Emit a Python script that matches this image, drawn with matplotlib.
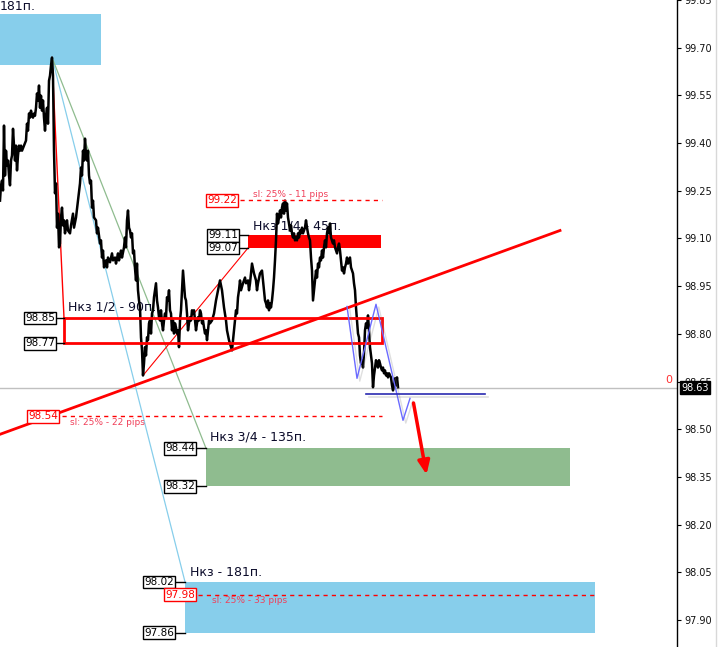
import matplotlib.pyplot as plt
import matplotlib.patheffects as pe
from matplotlib.patches import Rectangle
from matplotlib.lines import Line2D

# price path (bar index, price)
bars = [0, 1, 2, 3, 4, 5, 6, 7, 8, 9, 10, 11, 12, 13, 14, 15, 16, 17, 18, 19, 20, 21, 22, 24, 26, 27, 28, 29,
        30, 31, 32, 33, 34, 35, 36, 37, 38, 39, 40, 41, 42, 43, 44, 45, 46, 47, 48, 49, 50, 51, 52, 53, 54,
        55, 56, 57, 58, 59, 60, 61, 62, 63, 64, 65, 66, 67, 68, 70, 71, 73, 74, 76, 78, 80, 81, 82, 83, 84,
        85, 86, 87, 88, 89, 90, 91, 92, 93, 94, 96, 97, 98, 100, 101, 102, 103, 104, 105, 106, 107, 108,
        110, 112, 113, 115, 116, 118, 119, 121, 122, 124, 125, 126, 127, 128, 129, 130, 131, 132, 133, 134,
        135, 136, 137, 138, 139, 140, 141, 142, 143, 144, 145, 146, 147, 148, 149, 150, 151, 152, 153, 154,
        155, 156, 157, 158, 159, 160, 161, 162, 163, 164, 165, 166, 167, 168, 169, 170, 171, 172, 173, 174,
        175, 176, 177, 178, 179, 180, 181, 182, 183, 184, 185, 186, 187, 188, 189, 190, 191, 192, 193, 194,
        195, 196, 197, 198, 199, 200, 201, 202, 203, 204, 205, 206, 207, 208, 209, 210, 212, 214, 216, 218,
        220, 222, 224, 226, 227, 229, 231, 232, 233, 234, 235, 236, 237, 238, 239, 240, 241, 243, 245, 246,
        248, 249, 250, 252, 254, 256, 257, 258, 260, 262, 263, 264, 265, 266, 267, 268, 269, 270, 271, 272,
        273, 274, 275, 276, 277, 278, 279, 280, 281, 282, 283, 284, 285, 286, 287, 288, 289, 290, 291, 292,
        293, 294, 295, 296, 297, 298, 299, 300, 301, 302, 303, 304, 305, 306, 307, 308, 309, 310, 311, 312,
        313, 314, 315, 316, 317, 318, 319, 320, 321, 322, 323, 324, 325, 326, 327, 328, 329, 330, 331, 332,
        333, 334, 335, 336, 337, 338, 339, 340, 341, 342, 343, 344, 345, 346, 347, 348, 349, 350, 351, 352,
        353, 354, 355, 356, 357, 358, 359, 360, 361, 362, 363, 364, 365, 366, 367, 368, 369, 370, 371, 372,
        373, 374, 375, 376, 377, 378, 379, 380, 381, 382, 383, 384, 385, 386, 387, 388, 389, 390, 391, 392,
        393, 394, 395, 396, 397, 398]
prices = [99.219, 99.267, 99.282, 99.251, 99.455, 99.298, 99.376, 99.329, 99.345, 99.298, 99.267, 99.345,
          99.361, 99.445, 99.392, 99.345, 99.392, 99.314, 99.361, 99.392, 99.376, 99.392, 99.376, 99.392,
          99.408, 99.461, 99.439, 99.493, 99.480, 99.502, 99.486, 99.480, 99.493, 99.486, 99.511, 99.556,
          99.534, 99.581, 99.511, 99.549, 99.502, 99.534, 99.480, 99.439, 99.486, 99.511, 99.461, 99.596,
          99.612, 99.644, 99.669, 99.612, 99.376, 99.242, 99.273, 99.134, 99.178, 99.072, 99.084, 99.166,
          99.197, 99.141, 99.157, 99.116, 99.141, 99.157, 99.125, 99.116, 99.141, 99.178, 99.134, 99.166,
          99.219, 99.273, 99.323, 99.298, 99.376, 99.345, 99.414, 99.361, 99.345, 99.376, 99.298, 99.273,
          99.282, 99.197, 99.219, 99.166, 99.157, 99.116, 99.134, 99.084, 99.094, 99.040, 99.062, 99.009,
          99.021, 99.031, 99.009, 99.040, 99.025, 99.053, 99.031, 99.040, 99.021, 99.053, 99.031, 99.062,
          99.040, 99.072, 99.103, 99.072, 99.157, 99.188, 99.134, 99.125, 99.103, 99.116, 99.053, 99.062,
          99.006, 98.968, 99.021, 98.937, 98.905, 98.883, 98.789, 98.748, 98.669, 98.707, 98.758, 98.732,
          98.789, 98.780, 98.833, 98.842, 98.801, 98.864, 98.874, 98.915, 98.937, 98.959, 98.905, 98.883,
          98.852, 98.842, 98.874, 98.833, 98.811, 98.842, 98.864, 98.852, 98.915, 98.905, 98.937, 98.874,
          98.864, 98.811, 98.842, 98.801, 98.833, 98.820, 98.801, 98.811, 98.758, 98.842, 98.874, 98.937,
          98.999, 98.959, 98.915, 98.905, 98.864, 98.811, 98.833, 98.852, 98.842, 98.874, 98.864, 98.874,
          98.842, 98.811, 98.833, 98.852, 98.842, 98.874, 98.864, 98.833, 98.842, 98.820, 98.801, 98.811,
          98.780, 98.811, 98.842, 98.833, 98.842, 98.864, 98.905, 98.937, 98.968, 98.937, 98.883, 98.842,
          98.811, 98.780, 98.758, 98.748, 98.780, 98.811, 98.842, 98.874, 98.864, 98.915, 98.937, 98.968,
          98.937, 98.959, 98.977, 98.959, 98.968, 98.937, 98.959, 99.021, 98.990, 98.968, 98.937, 98.959,
          98.990, 98.999, 98.968, 98.937, 98.905, 98.896, 98.883, 98.905, 98.874, 98.896, 98.883, 98.905,
          98.937, 98.977, 99.031, 99.094, 99.178, 99.147, 99.166, 99.188, 99.166, 99.197, 99.210, 99.178,
          99.219, 99.188, 99.210, 99.166, 99.147, 99.125, 99.141, 99.116, 99.103, 99.116, 99.094, 99.103,
          99.094, 99.116, 99.103, 99.125, 99.116, 99.134, 99.116, 99.125, 99.134, 99.157, 99.134, 99.116,
          99.103, 99.094, 99.040, 98.999, 98.905, 98.937, 98.968, 98.999, 98.977, 99.021, 99.009, 99.040,
          99.031, 99.062, 99.040, 99.072, 99.094, 99.072, 99.116, 99.134, 99.116, 99.147, 99.103, 99.094,
          99.084, 99.094, 99.072, 99.062, 99.053, 99.072, 99.084, 99.062, 99.031, 98.999, 99.009, 98.990,
          99.009, 99.021, 99.040, 99.021, 99.031, 99.040, 99.009, 98.999, 98.990, 98.959, 98.937, 98.883,
          98.842, 98.801, 98.789, 98.732, 98.707, 98.717, 98.694, 98.739, 98.811, 98.833, 98.820, 98.858,
          98.811, 98.758, 98.732, 98.707, 98.632, 98.669, 98.694, 98.717, 98.707, 98.694, 98.717, 98.707,
          98.694, 98.685, 98.694, 98.676, 98.685, 98.669, 98.676, 98.663, 98.676, 98.669, 98.663, 98.638,
          98.622, 98.638, 98.660, 98.638, 98.663, 98.632]

last_price = 98.63
y_ticks = [97.90, 98.05, 98.20, 98.35, 98.50, 98.65, 98.80, 98.95, 99.10, 99.25, 99.40, 99.55, 99.70, 99.85]

# zones: (start bar, end bar, low, high)
zone_top = (0, 101, 99.647, 99.807)
zone_q1 = (248, 381, 99.07, 99.11)
zone_half = (64, 382, 98.77, 98.85)
zone_q3 = (206, 570, 98.32, 98.44)
zone_full = (185, 595, 97.86, 98.02)

# stop levels: (start bar, end bar, price)
stop_q1 = (240, 382, 99.22)
stop_half = (62, 382, 98.54)
stop_full = (198, 597, 97.98)

peak = (52, 99.669)
trend = [(0, 98.484), (560, 99.125)]
zigzag_x = [347, 357, 376, 403, 410]
zigzag_y = [98.886, 98.660, 98.893, 98.528, 98.597]
support = (366, 485, 98.610)
arrow_from = (413, 98.591)
arrow_to = (427, 98.349)

RED = '#ff0000'
SL = '#f0405a'
TXT = '#0b0b2a'

fig = plt.figure(figsize=(7.19, 6.47), dpi=100)
ax = fig.add_axes([0, 0, 677 / 719, 1])
ax.set_xlim(0, 677)
ax.set_ylim(97.815, 99.848)

for s in ['left', 'top', 'bottom']:
    ax.spines[s].set_visible(False)
ax.spines['right'].set_linewidth(1.0)
ax.set_xticks([])
ax.yaxis.tick_right()
ax.set_yticks(y_ticks)
ax.set_yticklabels([f'{v:.2f}' for v in y_ticks], fontsize=7, color='#111111')
ax.tick_params(axis='y', length=3, width=0.8, pad=2)

# filled zones
for (x0, x1, lo, hi), c in [(zone_top, '#87ceeb'), (zone_q1, RED), (zone_q3, '#8fbc8f'), (zone_full, '#87ceeb')]:
    ax.add_patch(Rectangle((x0, lo), x1 - x0, hi - lo, facecolor=c, edgecolor='none', zorder=1))

# half zone outline
x0, x1, lo, hi = zone_half
ax.add_patch(Rectangle((x0, lo), x1 - x0, hi - lo, facecolor='none', edgecolor=RED, lw=2, zorder=4))

# current price line
ax.axhline(last_price, color='#c0c0c0', lw=1, zorder=1)
ax.text(665, last_price + 0.01, '0', color='#ff3030', fontsize=8, ha='left', va='bottom')

# fan lines from the top
ax.plot([peak[0], zone_full[0]], [peak[1], zone_full[3]], color='#87ceeb', lw=0.9, zorder=2)
ax.plot([peak[0], zone_q3[0]], [peak[1], zone_q3[3]], color='#8fbc8f', lw=0.9, zorder=2)
ax.plot([peak[0], zone_half[0]], [peak[1], zone_half[3]], color=RED, lw=1.0, zorder=2)
ax.plot([143, zone_q1[0]], [98.669, zone_q1[2]], color=RED, lw=0.8, zorder=2)

# zone captions
ax.text(68, 98.885, 'Нкз 1/2 - 90п.', fontsize=9, color=TXT, va='center', zorder=2)
ax.text(253, 99.14, 'Нкз 1/4 - 45п.', fontsize=9, color=TXT, va='center', zorder=2)
ax.text(210, 98.475, 'Нкз 3/4 - 135п.', fontsize=9, color=TXT, va='center', zorder=2)
ax.text(190, 98.05, 'Нкз - 181п.', fontsize=9, color=TXT, va='center', zorder=2)
ax.text(0, 99.829, '181п.', fontsize=9, color=TXT, va='center', zorder=2)

# price
ax.plot(bars, prices, color='black', lw=1.8, zorder=3)

# trend line
ax.plot([trend[0][0], trend[1][0]], [trend[0][1], trend[1][1]], color=RED, lw=2, zorder=4)

# stop levels
for (sx0, sx1, lvl), txt, tx, dy in [(stop_q1, 'sl: 25% - 11 pips', 253, 0.018),
                                      (stop_half, 'sl: 25% - 22 pips', 70, -0.018),
                                      (stop_full, 'sl: 25% - 33 pips', 212, -0.018)]:
    ax.plot([sx0, sx1], [lvl, lvl], color=RED, lw=1, ls=(0, (3, 3)), zorder=4)
    ax.text(tx, lvl + dy, txt, color=SL, fontsize=6.5, va='center', zorder=4)

# price tags
def tag(x_right, y, label, edge, link_to=None):
    ax.text(x_right - 2, y, label, fontsize=7.5, ha='right', va='center', color=edge,
            bbox=dict(boxstyle='square,pad=0.12', fc='white', ec=edge, lw=1), zorder=6)
    if link_to is not None:
        ax.plot([x_right, link_to], [y, y], color='black', lw=1, zorder=5)

tag(57, 98.85, '98.85', 'black', 64)
tag(57, 98.77, '98.77', 'black', 64)
tag(240, 99.11, '99.11', 'black', 248)
tag(240, 99.07, '99.07', 'black', 248)
tag(239, 99.22, '99.22', RED)
tag(60, 98.54, '98.54', RED)
tag(197, 98.44, '98.44', 'black', 206)
tag(197, 98.32, '98.32', 'black', 206)
tag(176, 98.02, '98.02', 'black', 185)
tag(197, 97.98, '97.98', RED)
tag(176, 97.86, '97.86', 'black', 185)

# projected path
shadow = [pe.SimpleLineShadow(offset=(2, -2), alpha=0.25, shadow_color='gray'), pe.Normal()]
ax.plot(zigzag_x, zigzag_y, color='#6a6aff', lw=1, zorder=5, path_effects=shadow)
ax.plot([support[0], support[1]], [support[2], support[2]], color='#2a2ab0', lw=1.2, zorder=5,
        path_effects=shadow)
ax.annotate('', xy=arrow_to, xytext=arrow_from,
            arrowprops=dict(arrowstyle='-|>,head_width=0.35,head_length=0.8', color=RED, lw=2.5),
            zorder=6)

# last price label on the axis
ax.text(681, last_price, f'{last_price:.2f}', fontsize=7, color='white', va='center', ha='left',
        clip_on=False, bbox=dict(boxstyle='square,pad=0.15', fc='black', ec='black'), zorder=7)

fig.add_artist(Line2D([716 / 719, 716 / 719], [0, 1], color='#d8d8d8', lw=1))

fig.savefig('out.png', dpi=100)
